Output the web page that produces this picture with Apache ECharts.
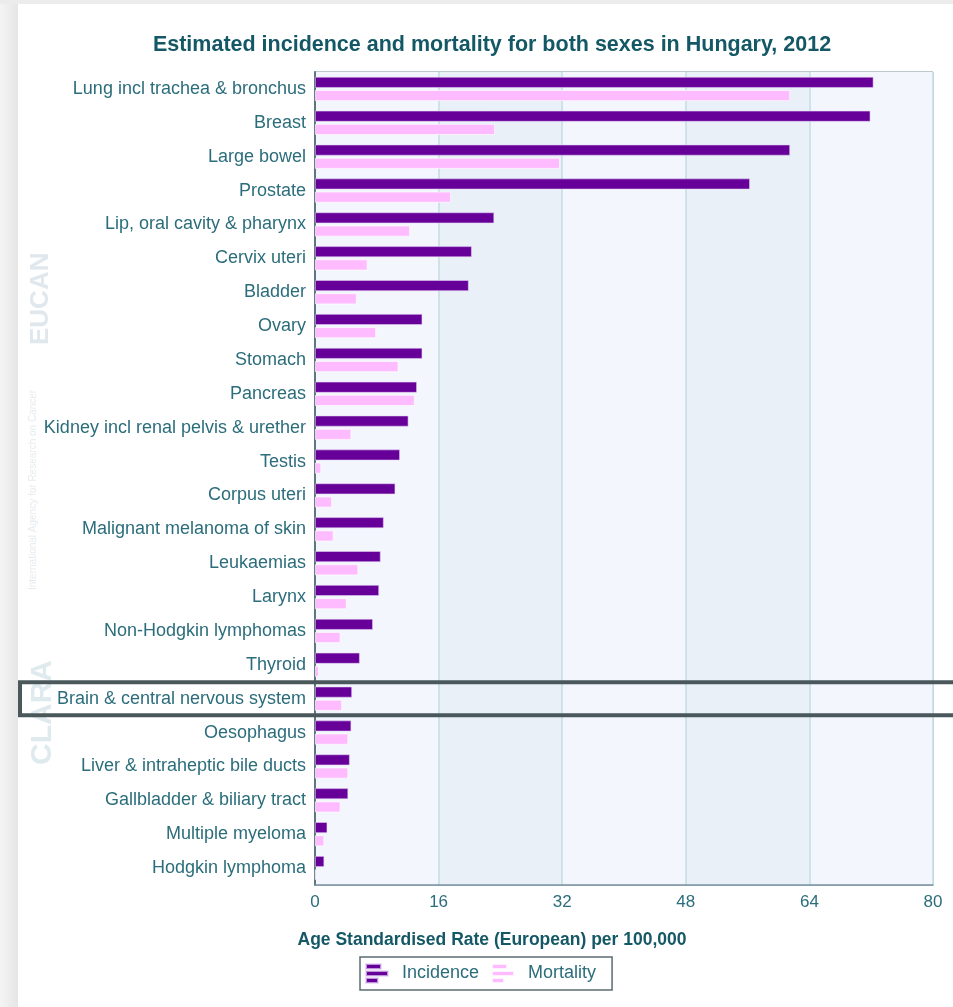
<!DOCTYPE html>
<html>
<head>
<meta charset="utf-8">
<script src="https://cdn.jsdelivr.net/npm/echarts@6/dist/echarts.min.js"></script>
<style>
html,body{margin:0;padding:0;background:#fff;}
#chart{width:953px;height:1007px;}
</style>
</head>
<body>
<div id="chart"></div>
<script>
const categories = [
  "Lung incl trachea & bronchus", "Breast", "Large bowel", "Prostate",
  "Lip, oral cavity & pharynx", "Cervix uteri", "Bladder", "Ovary", "Stomach",
  "Pancreas", "Kidney incl renal pelvis & urether", "Testis", "Corpus uteri",
  "Malignant melanoma of skin", "Leukaemias", "Larynx", "Non-Hodgkin lymphomas",
  "Thyroid", "Brain & central nervous system", "Oesophagus",
  "Liver & intraheptic bile ducts", "Gallbladder & biliary tract",
  "Multiple myeloma", "Hodgkin lymphoma"
];
const incidence = [72.3, 71.9, 61.5, 56.3, 23.2, 20.3, 19.9, 13.9, 13.9, 13.2, 12.1, 11.0, 10.4, 8.9, 8.5, 8.3, 7.5, 5.8, 4.8, 4.7, 4.5, 4.3, 1.6, 1.2];
const mortality = [61.5, 23.3, 31.7, 17.6, 12.3, 6.8, 5.4, 7.9, 10.8, 12.9, 4.7, 0.8, 2.2, 2.4, 5.6, 4.1, 3.3, 0.5, 3.5, 4.3, 4.3, 3.3, 1.2, 0.1];
const xTicks = [0, 16, 32, 48, 64, 80];
const highlighted = "Brain & central nervous system";
const xAxisTitle = 'Age Standardised Rate (European) per 100,000';

const teal = '#2b6d7b';
const darkTeal = '#145866';
const font = 'Liberation Sans, Arial';
const barIcon = 'path://M0,0H15V5H0Z M0,7H22V12H0Z M0,14H12V19H0Z';

const chart = echarts.init(document.getElementById('chart'), null, {renderer: 'canvas'});
const option = {
  backgroundColor: '#ffffff',
  animation: false,
  title: [
    {
      text: 'Estimated incidence and mortality for both sexes in Hungary, 2012',
      left: 487, textAlign: 'center',
      top: 29,
      textStyle: {fontFamily: font, fontSize: 21.5, fontWeight: 'bold', color: darkTeal}
    },
    {
      text: xAxisTitle,
      left: 487, textAlign: 'center',
      top: 926,
      textStyle: {fontFamily: font, fontSize: 17.5, fontWeight: 'bold', color: darkTeal}
    }
  ],
  legend: {
    data: [{name: 'Incidence', icon: barIcon}, {name: 'Mortality', icon: barIcon}],
    left: 360,
    top: 957,
    itemWidth: 22,
    itemHeight: 19,
    itemGap: 12,
    padding: [6, 16, 6, 5],
    borderColor: '#5b6d73',
    borderWidth: 1.5,
    backgroundColor: '#ffffff',
    textStyle: {fontFamily: font, fontSize: 18, color: teal, padding: [0, 0, 0, 9]}
  },
  grid: {
    left: 315, right: 20, top: 72, bottom: 122,
    show: true,
    backgroundColor: '#f3f7fd',
    borderColor: '#7893a0',
    borderWidth: 1
  },
  xAxis: {
    type: 'value',
    min: xTicks[0],
    max: xTicks[xTicks.length - 1],
    interval: xTicks[1] - xTicks[0],
    axisLine: {show: true, lineStyle: {color: '#7893a0', width: 1.5}},
    axisTick: {show: false},
    axisLabel: {fontFamily: font, fontSize: 17, color: teal, margin: 9},
    splitLine: {show: true, lineStyle: {color: '#c3dce5', width: 1.5}},
    splitArea: {show: true, areaStyle: {color: ['#f3f7fd', '#e9f0f8']}}
  },
  yAxis: {
    type: 'category',
    data: categories,
    inverse: true,
    axisLine: {show: true, lineStyle: {color: '#5f7580', width: 2}},
    axisTick: {show: false},
    axisLabel: {fontFamily: font, fontSize: 18, color: teal, margin: 9},
    splitLine: {show: false}
  },
  series: [
    {
      name: 'Incidence', type: 'bar', data: incidence,
      barWidth: 11, barGap: '20%', barCategoryGap: '30%',
      itemStyle: {color: '#660099', borderColor: 'rgba(230,210,245,0.7)', borderWidth: 0.8}
    },
    {
      name: 'Mortality', type: 'bar', data: mortality,
      barWidth: 11, barGap: '20%',
      itemStyle: {color: '#ffbbff', borderColor: 'rgba(255,255,255,0.8)', borderWidth: 0.8}
    }
  ]
};
chart.setOption(option);

// annotation frame around highlighted category, positioned via axis scale
const cy = chart.convertToPixel({yAxisIndex: 0}, highlighted);
const band = (chart.convertToPixel({yAxisIndex: 0}, categories[1]) - chart.convertToPixel({yAxisIndex: 0}, categories[0]));
chart.setOption({
  graphic: [
    {type: 'rect', left: 0, top: 0, z: -1, shape: {x: 0, y: 0, width: 18, height: 1007},
      style: {fill: new echarts.graphic.LinearGradient(0, 0, 1, 0, [{offset: 0, color: '#f4f4f4'}, {offset: 1, color: '#e6e6e6'}])}},
    {type: 'rect', left: 0, top: 0, z: -1, shape: {x: 0, y: 0, width: 953, height: 4},
      style: {fill: '#ececec'}},
    {type: 'text', x: 28, y: 345, rotation: Math.PI / 2, z: -1,
      style: {text: 'EUCAN', fill: '#e1e8ed', font: 'bold 26px Liberation Sans'}},
    {type: 'text', x: 28, y: 590, rotation: Math.PI / 2, z: -1,
      style: {text: 'International Agency for Research on Cancer', fill: '#e6ebef', font: '10px Liberation Sans'}},
    {type: 'text', x: 28, y: 765, rotation: Math.PI / 2, z: -1,
      style: {text: 'CLARA', fill: '#dfeaee', font: 'bold 30px Liberation Sans'}},
    {type: 'rect', z: 100, shape: {x: 20, y: cy - band / 2 + 0.5, width: 950, height: band - 1},
      style: {fill: 'none', stroke: '#4a585c', lineWidth: 4}}
  ]
});
</script>
</body>
</html>
